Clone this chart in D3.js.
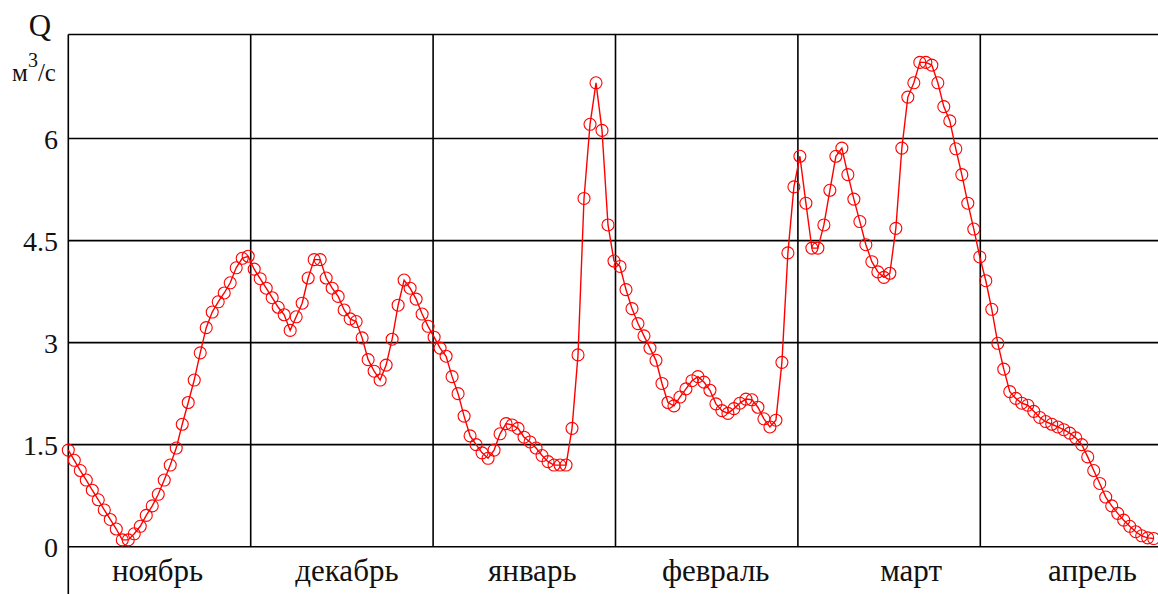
<!DOCTYPE html>
<html>
<head>
<meta charset="utf-8">
<script src="https://cdn.jsdelivr.net/npm/d3@7"></script>
<style>
  html, body { margin: 0; padding: 0; background: #fff; }
  svg { display: block; }
  text { font-family: "Liberation Serif", "Times New Roman", serif; fill: #111; }
</style>
</head>
<body>
<svg id="chart" width="1158" height="594"></svg>
<script>
// Months (category labels on the x axis)
const months = ["ноябрь", "декабрь", "январь", "февраль", "март", "апрель"];
// y tick labels
const yTicks = [0, 1.5, 3, 4.5, 6];
// Daily discharge Q, m3/s (day index 0 = 1 November)
const days = d3.range(182);
const discharge = [
  1.42, 1.27, 1.12, 0.98, 0.83, 0.69, 0.54, 0.40, 0.26, 0.10,
  0.10, 0.19, 0.30, 0.46, 0.60, 0.77, 0.98, 1.20, 1.45, 1.80,
  2.12, 2.45, 2.85, 3.22, 3.45, 3.60, 3.73, 3.88, 4.10, 4.24,
  4.27, 4.08, 3.94, 3.80, 3.66, 3.52, 3.41, 3.18, 3.38, 3.58,
  3.95, 4.22, 4.22, 3.95, 3.80, 3.68, 3.48, 3.35, 3.31, 3.07,
  2.75, 2.58, 2.45, 2.67, 3.05, 3.55, 3.92, 3.80, 3.64, 3.42,
  3.24, 3.08, 2.92, 2.80, 2.50, 2.25, 1.92, 1.63, 1.50, 1.38,
  1.30, 1.42, 1.66, 1.81, 1.79, 1.74, 1.61, 1.54, 1.45, 1.34,
  1.25, 1.20, 1.20, 1.20, 1.74, 2.82, 5.12, 6.21, 6.82, 6.12,
  4.73, 4.20, 4.12, 3.78, 3.50, 3.28, 3.10, 2.92, 2.74, 2.40,
  2.12, 2.07, 2.20, 2.32, 2.44, 2.50, 2.42, 2.30, 2.10, 2.00,
  1.96, 2.03, 2.11, 2.17, 2.16, 2.05, 1.88, 1.76, 1.86, 2.71,
  4.32, 5.29, 5.74, 5.05, 4.39, 4.39, 4.73, 5.24, 5.74, 5.86,
  5.47, 5.11, 4.78, 4.44, 4.19, 4.04, 3.96, 4.02, 4.68, 5.86,
  6.61, 6.82, 7.12, 7.12, 7.08, 6.82, 6.47, 6.26, 5.85, 5.47,
  5.05, 4.67, 4.26, 3.91, 3.49, 2.99, 2.61, 2.28, 2.18, 2.11,
  2.08, 1.99, 1.90, 1.84, 1.80, 1.76, 1.72, 1.67, 1.60, 1.50,
  1.32, 1.12, 0.93, 0.73, 0.60, 0.49, 0.39, 0.30, 0.22, 0.16,
  0.13, 0.12
];

const svg = d3.select("#chart");
const mLeft = 68.3, mRight = 1162.7, mTop = 34.5, mBottom = 546.7;
const daysPerMonth = 365 / 12;
// small horizontal nudges of the month captions (layout only)
const captionShift = [-2, 5, 8, 9, 22, 21];

const x = d3.scaleLinear().domain([0, daysPerMonth * 6]).range([mLeft, mRight]);
const y = d3.scaleLinear().domain([0, 7.53]).range([mBottom, mTop]);

const grid = svg.append("g").attr("stroke", "#000").attr("stroke-width", 1.6).attr("fill", "none");
// horizontal grid lines
grid.selectAll("line.h").data(yTicks).join("line")
  .attr("class", "h")
  .attr("x1", mLeft).attr("x2", 1158)
  .attr("y1", d => y(d)).attr("y2", d => y(d));
// top frame
grid.append("line").attr("x1", mLeft).attr("x2", 1158).attr("y1", mTop).attr("y2", mTop);
// month boundary lines
grid.selectAll("line.v").data(d3.range(1, 6)).join("line")
  .attr("class", "v")
  .attr("x1", d => x(d * daysPerMonth)).attr("x2", d => x(d * daysPerMonth))
  .attr("y1", mTop).attr("y2", mBottom);
// left axis line
grid.append("line").attr("x1", mLeft).attr("x2", mLeft).attr("y1", mTop).attr("y2", 594);

// y tick labels
svg.append("g").selectAll("text").data(yTicks).join("text")
  .attr("x", 58).attr("y", d => y(d))
  .attr("dy", "0.36em")
  .attr("text-anchor", "end")
  .attr("font-size", 28)
  .text(d => d);

// month labels
svg.append("g").selectAll("text").data(months).join("text")
  .attr("x", (d, i) => x((i + 0.5) * daysPerMonth) + captionShift[i])
  .attr("y", 581)
  .attr("text-anchor", "middle")
  .attr("font-size", 31)
  .text(d => d);

// axis title
svg.append("text").attr("x", 40).attr("y", 36).attr("text-anchor", "middle")
  .attr("font-size", 31).text("Q");
const unit = svg.append("text").attr("x", 34).attr("y", 81).attr("text-anchor", "middle")
  .attr("font-size", 25);
unit.append("tspan").text("м");
unit.append("tspan").attr("dy", -14).attr("font-size", 20).text("3");
unit.append("tspan").attr("dy", 14).text("/с");

// series
const pts = days.map((d, i) => [d, discharge[i]]);
const plot = svg.append("g");
plot.append("path").datum(pts)
  .attr("fill", "none").attr("stroke", "#ff0000").attr("stroke-width", 1.4)
  .attr("d", d3.line().x(d => x(d[0])).y(d => y(d[1])));
plot.selectAll("circle").data(pts).join("circle")
  .attr("cx", d => x(d[0])).attr("cy", d => y(d[1]))
  .attr("r", 6)
  .attr("fill", "none").attr("stroke", "#ff0000").attr("stroke-width", 1.1);
</script>
</body>
</html>
